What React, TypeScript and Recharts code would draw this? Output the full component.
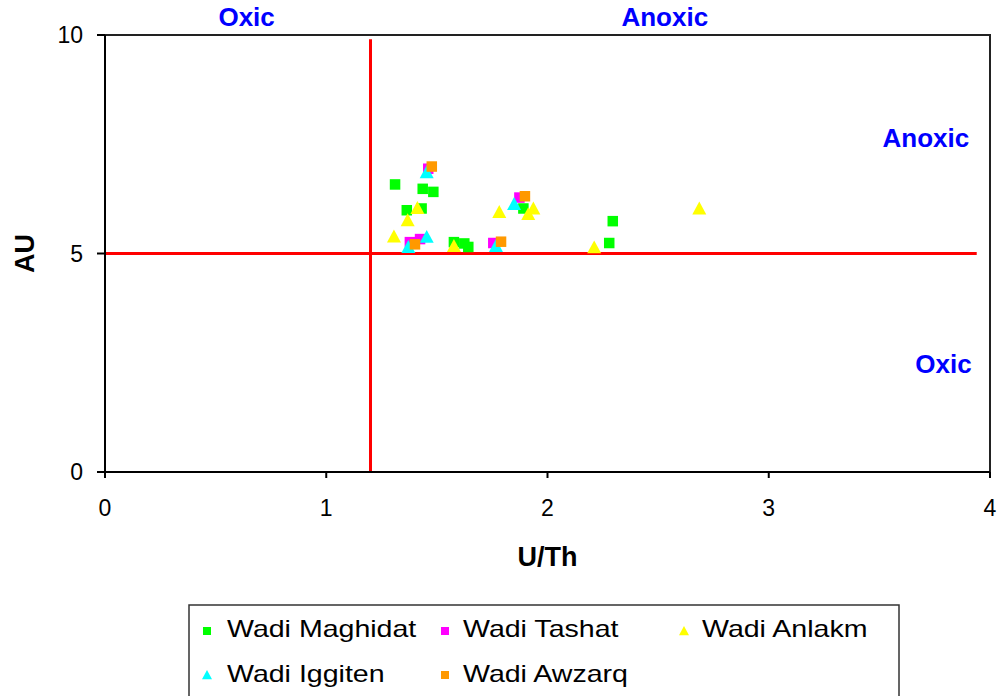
import {
  ScatterChart,
  Scatter,
  XAxis,
  YAxis,
  ReferenceLine,
  ReferenceArea,
  ReferenceDot,
} from "recharts";

type Pt = { x: number; y: number };

// U/Th vs AU per site
const maghidat: Pt[] = [
  { x: 1.311, y: 6.58 },
  { x: 1.436, y: 6.48 },
  { x: 1.484, y: 6.41 },
  { x: 1.364, y: 5.99 },
  { x: 1.431, y: 6.03 },
  { x: 1.577, y: 5.26 },
  { x: 1.624, y: 5.23 },
  { x: 1.642, y: 5.15 },
  { x: 1.891, y: 6.03 },
  { x: 2.295, y: 5.74 },
  { x: 2.279, y: 5.24 },
];
const tashat: Pt[] = [
  { x: 1.461, y: 6.94 },
  { x: 1.424, y: 5.33 },
  { x: 1.378, y: 5.26 },
  { x: 1.755, y: 5.24 },
  { x: 1.873, y: 6.28 },
];
const anlakm: Pt[] = [
  { x: 1.412, y: 6.04 },
  { x: 1.368, y: 5.76 },
  { x: 1.306, y: 5.39 },
  { x: 1.577, y: 5.17 },
  { x: 1.782, y: 5.95 },
  { x: 1.936, y: 6.03 },
  { x: 1.913, y: 5.9 },
  { x: 2.211, y: 5.14 },
  { x: 2.686, y: 6.03 },
];
const iggiten: Pt[] = [
  { x: 1.454, y: 6.86 },
  { x: 1.454, y: 5.38 },
  { x: 1.371, y: 5.15 },
  { x: 1.767, y: 5.17 },
  { x: 1.849, y: 6.13 },
];
const awzarq: Pt[] = [
  { x: 1.477, y: 6.99 },
  { x: 1.401, y: 5.21 },
  { x: 1.79, y: 5.27 },
  { x: 1.898, y: 6.31 },
];

const xTicks = [0, 1, 2, 3, 4];
const yTicks = [0, 5, 10];

// threshold lines (U/Th = 1.2, AU = 5)
const uthLimit = 1.2;
const auLimit = 5;

const zoneLabels = [
  { text: "Oxic", x: 0.64, y: 10.42 },
  { text: "Anoxic", x: 2.53, y: 10.42 },
  { text: "Anoxic", x: 3.71, y: 7.64 },
  { text: "Oxic", x: 3.79, y: 2.47 },
];

type Marker = "square" | "triangle";

const series: { name: string; data: Pt[]; color: string; marker: Marker }[] = [
  { name: "Wadi Maghidat", data: maghidat, color: "#00ff00", marker: "square" },
  { name: "Wadi Tashat", data: tashat, color: "#ff00ff", marker: "square" },
  { name: "Wadi Anlakm", data: anlakm, color: "#ffff00", marker: "triangle" },
  { name: "Wadi Iggiten", data: iggiten, color: "#00ffff", marker: "triangle" },
  { name: "Wadi Awzarq", data: awzarq, color: "#ff9900", marker: "square" },
];

const makeShape = (marker: Marker, color: string, s: number) => (props: any) => {
  const { cx, cy } = props;
  if (cx == null || cy == null) return <g />;
  if (marker === "square") {
    return <rect x={cx - s / 2} y={cy - s / 2} width={s} height={s} fill={color} />;
  }
  const h = s * 0.5;
  return (
    <polygon
      points={`${cx},${cy - h} ${cx - h},${cy + h * 0.85} ${cx + h},${cy + h * 0.85}`}
      fill={color}
    />
  );
};

const FONT = "'Liberation Sans', Arial, sans-serif";

const XTick = (props: any) => {
  const { x, y, payload } = props;
  return (
    <text x={x} y={y + 32} textAnchor="middle" fontSize={23} fontFamily={FONT} fill="#000">
      {payload.value}
    </text>
  );
};

const YTick = (props: any) => {
  const { x, y, payload } = props;
  return (
    <text x={x - 9} y={y + 8} textAnchor="end" fontSize={23} fontFamily={FONT} fill="#000">
      {payload.value}
    </text>
  );
};

const legendPos = [
  { mx: 207, tx: 227, my: 631, ty: 637 },
  { mx: 445, tx: 463, my: 631, ty: 637 },
  { mx: 684, tx: 702, my: 631, ty: 637 },
  { mx: 207, tx: 227, my: 675, ty: 682 },
  { mx: 445, tx: 463, my: 675, ty: 682 },
];

const LegendBox = () => (
  <svg
    width={998}
    height={696}
    style={{ position: "absolute", left: 0, top: 0, pointerEvents: "none" }}
  >
    <rect x={189} y={605} width={710} height={120} fill="#fff" stroke="#333" strokeWidth={1.5} />
    {series.map((s, i) => {
      const p = legendPos[i];
      const shape = makeShape(s.marker, s.color, s.marker === "square" ? 8 : 10);
      return (
        <g key={s.name}>
          {shape({ cx: p.mx, cy: p.my })}
          <text
            transform={`translate(${p.tx},${p.ty}) scale(1.19,1)`}
            fontSize={24}
            fontFamily={FONT}
            fill="#000"
          >
            {s.name}
          </text>
        </g>
      );
    })}
  </svg>
);

const App = () => {
  return (
    <div
      style={{
        position: "fixed",
        left: 0,
        top: 0,
        width: 998,
        height: 696,
        overflow: "hidden",
        background: "#fff",
        fontFamily: FONT,
      }}
    >
      <ScatterChart
        width={998}
        height={696}
        margin={{ top: 35, right: 8, bottom: 164, left: 25 }}
        style={{ fontFamily: FONT }}
      >
        <XAxis
          type="number"
          dataKey="x"
          domain={[0, 4]}
          ticks={xTicks}
          height={60}
          stroke="#000"
          strokeWidth={2}
          tickSize={6}
          tickMargin={6}
          tick={<XTick />}
          label={{
            value: "U/Th",
            position: "bottom",
            offset: 15,
            fontSize: 27,
            fontWeight: "bold",
            fill: "#000",
          }}
        />
        <YAxis
          type="number"
          dataKey="y"
          domain={[0, 10]}
          ticks={yTicks}
          width={80}
          stroke="#000"
          strokeWidth={2}
          tickSize={8}
          tickMargin={5}
          tick={<YTick />}
          label={{
            value: "AU",
            angle: -90,
            position: "insideLeft",
            offset: -1,
            fontSize: 27,
            fontWeight: "bold",
            fill: "#000",
            style: { textAnchor: "middle" },
          }}
        />
        <ReferenceArea
          x1={0}
          x2={4}
          y1={0}
          y2={10}
          fill="none"
          fillOpacity={0}
          stroke="#222"
          strokeWidth={2}
        />
        <ReferenceLine
          segment={[
            { x: uthLimit, y: 0 },
            { x: uthLimit, y: 9.9 },
          ]}
          stroke="#ff0000"
          strokeWidth={3}
        />
        <ReferenceLine
          segment={[
            { x: 0, y: auLimit },
            { x: 3.94, y: auLimit },
          ]}
          stroke="#ff0000"
          strokeWidth={3}
        />
        {series.map((s) => (
          <Scatter
            key={s.name}
            name={s.name}
            data={s.data}
            shape={makeShape(s.marker, s.color, s.marker === "square" ? 10.5 : 14)}
            isAnimationActive={false}
          />
        ))}
        {zoneLabels.map((z, i) => (
          <ReferenceDot
            key={i}
            x={z.x}
            y={z.y}
            r={0}
            fill="none"
            stroke="none"
            ifOverflow="visible"
            label={{
              value: z.text,
              position: "center",
              fontSize: 26,
              fontWeight: "bold",
              fill: "#0000ff",
            }}
          />
        ))}
      </ScatterChart>
      <LegendBox />
    </div>
  );
};

export default App;
